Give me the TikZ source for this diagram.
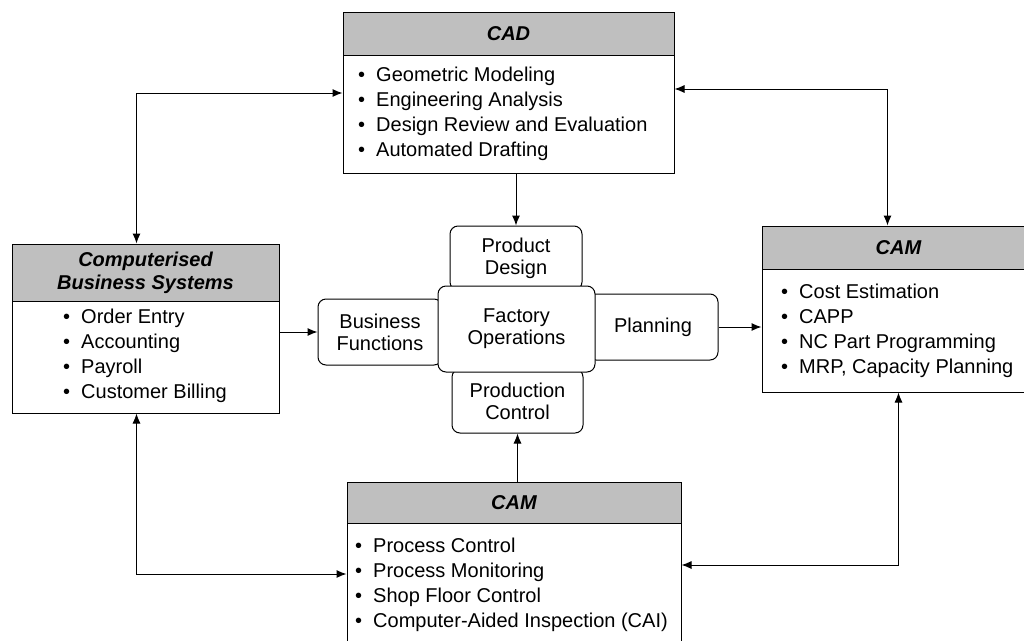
\documentclass[tikz,border=0pt]{standalone}
\usepackage{fontspec}
\setmainfont{Liberation Sans}
\usepackage{tikz}
\usetikzlibrary{arrows.meta,calc,positioning}
\tikzset{>={Latex[length=10pt,width=8pt]}}

\newcommand{\itm}[1]{\textbullet\hspace{11pt}#1}

\tikzset{
  head/.style={draw, line width=1pt, fill=black!25, align=center, inner sep=0pt,
               font=\fontsize{20}{23}\selectfont\bfseries\itshape},
  body/.style={draw, line width=1pt, fill=white, inner sep=0pt},
  list/.style={anchor=north west, inner sep=0pt, align=left, font=\fontsize{20}{25}\selectfont},
  func/.style={draw, line width=1pt, rounded corners=8pt, fill=white, align=center,
               inner sep=0pt, font=\fontsize{20}{22}\selectfont},
  link/.style={line width=1pt}
}

\begin{document}
\begin{tikzpicture}[x=1pt,y=-1pt]
                \useasboundingbox (0,0) rectangle (1024,640);

                % CAD
                \node[head, minimum width=331, minimum height=43] (cadhead) at (508.5,33.5) {CAD};
                \node[body, minimum width=331, minimum height=118] (cadbody) at (508.5,114) {};
                \node[list] (cadlist) at (358,67) {\itm{Geometric Modeling}\\ \itm{Engineering Analysis}\\
                      \itm{Design Review and Evaluation}\\ \itm{Automated Drafting}};

                % business systems
                \node[head, minimum width=267, minimum height=57] (cbshead) at (145.5,272.5) {Computerised\\Business Systems};
                \node[body, minimum width=267, minimum height=112] (cbsbody) at (145.5,357) {};
                \node[list] (cbslist) at (63,309) {\itm{Order Entry}\\ \itm{Accounting}\\
                      \itm{Payroll}\\ \itm{Customer Billing}};

                % CAM, right
                \node[head, minimum width=273, minimum height=43] (camrhead) at (898.5,247.5) {CAM};
                \node[body, minimum width=273, minimum height=123] (camrbody) at (898.5,330.5) {};
                \node[list] (camrlist) at (781,284) {\itm{Cost Estimation}\\ \itm{CAPP}\\
                      \itm{NC Part Programming}\\ \itm{MRP, Capacity Planning}};

                % CAM, bottom
                \node[head, minimum width=334, minimum height=41] (cambhead) at (514,502.5) {CAM};
                \node[body, minimum width=334, minimum height=126] (cambbody) at (514,586) {};
                \node[list] (camblist) at (355,538) {\itm{Process Control}\\ \itm{Process Monitoring}\\
                      \itm{Shop Floor Control}\\ \itm{Computer-Aided Inspection (CAI)}};

                % centre
                \node[func, minimum width=132, minimum height=64] (pd) at (516,258) {Product\\Design};
                \node[func, minimum width=131, minimum height=64] (pc) at (517.5,401) {Production\\Control};
                \node[func, minimum width=124, minimum height=66] (bf) at (380,332) {Business\\Functions};
                \node[func, minimum width=130, minimum height=66] (plan) at (653,327) {Planning};
                \node[func, minimum width=157, minimum height=86] (fo) at (516.5,329) {Factory\\Operations};

                % links
                \draw[->, link] (pd.north |- cadbody.south) -- (pd.north);
                \draw[->, link] (pc.south |- cambhead.north) -- (pc.south);
                \draw[->, link] (bf.west -| cbsbody.east) -- (bf.west);
                \draw[->, link] (plan.east) -- (plan.east -| camrbody.west);
                \draw[<->, link] ([xshift=-9pt]cbshead.north) |- ([yshift=21pt]cadbody.west);
                \draw[<->, link] ([yshift=25pt]cadbody.east) -| ([xshift=-11pt]camrhead.north);
                \draw[<->, link] ([xshift=-9pt]cbsbody.south) |- ([yshift=12pt]cambbody.west);
                \draw[<->, link] ([yshift=21pt]cambbody.east) -| (camrbody.south);
\end{tikzpicture}
\end{document}
